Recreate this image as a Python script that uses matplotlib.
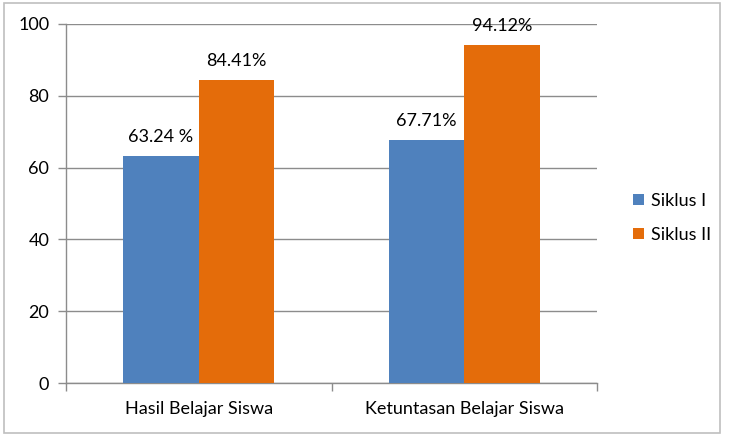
import matplotlib.pyplot as plt
import numpy as np
from matplotlib.patches import Rectangle

plt.rcParams['font.family'] = ['Lato', 'DejaVu Sans']

categories = ['Hasil Belajar Siswa', 'Ketuntasan Belajar Siswa']
siklus1 = [63.24, 67.71]
siklus2 = [84.41, 94.12]
labels1 = ['63.24 %', '67.71%']
labels2 = ['84.41%', '94.12%']

fig = plt.figure(figsize=(7.29, 4.38), dpi=100)
ax = fig.add_axes([66 / 729, 1 - 383 / 438, (597 - 66) / 729, (383 - 24) / 438])

# outer chart border
fig.patches.append(Rectangle((4 / 729, 1 - 433 / 438), 716 / 729, 430 / 438,
                             transform=fig.transFigure, fill=False,
                             edgecolor='#bfbfbf', linewidth=1.2))

x = np.arange(len(categories))
w = 0.285
b1 = ax.bar(x - w / 2, siklus1, w, color='#4f81bd', label='Siklus I', zorder=3)
b2 = ax.bar(x + w / 2, siklus2, w, color='#e46c0a', label='Siklus II', zorder=3)

for bars, labs in [(b1, labels1), (b2, labels2)]:
    for r, t in zip(bars, labs):
        ax.annotate(t, (r.get_x() + r.get_width() / 2, r.get_height()),
                    xytext=(0, 8), textcoords='offset points',
                    ha='center', va='bottom', fontsize=13)

ax.set_xlim(-0.5, 1.5)
ax.set_ylim(0, 100)
ax.set_yticks([0, 20, 40, 60, 80, 100])
ax.yaxis.grid(True, color='#8c8c8c', linewidth=1, zorder=0)

# category ticks between groups, labels centered
ax.set_xticks([-0.5, 0.5, 1.5])
ax.set_xticklabels([])
ax.set_xticks(x, minor=True)
ax.set_xticklabels(categories, minor=True)
ax.tick_params(axis='x', which='major', length=6, color='#8c8c8c', width=1)
ax.tick_params(axis='x', which='minor', length=0, pad=13, labelsize=13)
ax.tick_params(axis='y', length=6, color='#8c8c8c', width=1, labelsize=13, pad=6)

for s in ['top', 'right']:
    ax.spines[s].set_visible(False)
for s in ['left', 'bottom']:
    ax.spines[s].set_color('#8c8c8c')
    ax.spines[s].set_linewidth(1)

fig.legend(loc='center left', bbox_to_anchor=(617 / 729, 1 - 218 / 438),
           frameon=False, fontsize=13, handlelength=0.6, handleheight=0.6,
           labelspacing=1.0, handletextpad=0.4)

fig.savefig('out.png', dpi=100)
